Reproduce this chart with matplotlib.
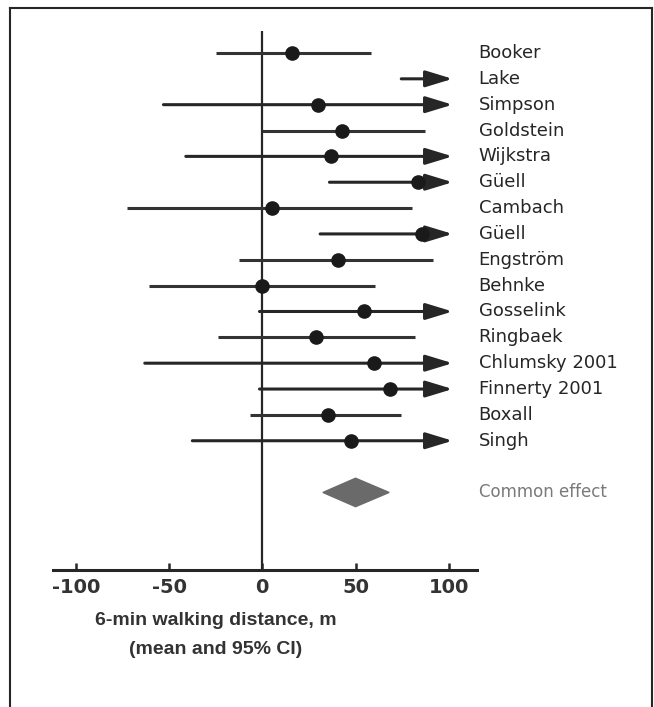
import numpy as np
import matplotlib
matplotlib.use("Agg")
import matplotlib.pyplot as plt
from matplotlib.lines import Line2D
from matplotlib.patches import Polygon

# data (6-min walking distance, m)
studies = ["Booker", "Lake", "Simpson", "Goldstein", "Wijkstra", "Güell",
           "Cambach", "Güell", "Engström", "Behnke", "Gosselink", "Ringbaek",
           "Chlumsky 2001", "Finnerty 2001", "Boxall", "Singh"]
means = [16, np.nan, 30, 42.5, 37, 83.5, 5, 85.5, 40.5, 0, 54.5, 29, 60, 68.5, 35, 47.5]
lower = [-25, 74.5, -53, 0, -41, 36, -72.5, 31, -12.5, -60.5, -1.5, -24, -63, -1.5, -6.5, -37.5]
# np.inf -> upper limit runs off the scale (drawn as an arrow)
upper = [58.5, np.inf, np.inf, 87, np.inf, np.inf, 80, np.inf, 91.5, 60.5, np.inf, 82, np.inf, np.inf, 74.5, np.inf]
common_label = "Common effect"
common_mean = 50
common_lo = 32.5
common_hi = 68
xticks = [-100, -50, 0, 50, 100]
xticklabels = ["-100", "-50", "0", "50", "100"]

W, H = 654, 707
fig = plt.figure(figsize=(W / 100, H / 100), dpi=100)
ax = fig.add_axes([53 / W, 1 - 570 / H, 424 / W, 539 / H])

dark = "#262626"
ax.set_xlim(-112.2, 115.1)
ax.set_ylim(20, -0.85)

# zero line
ax.axvline(0, color=dark, lw=1.6, zorder=1)

for i, (lo, m, hi) in enumerate(zip(lower, means, upper)):
    if np.isfinite(hi):
        ax.plot([lo, hi], [i, i], color="#333333", lw=2.2, solid_capstyle="butt", zorder=2)
    else:
        ax.annotate("", xy=(102, i), xytext=(lo, i),
                    arrowprops=dict(arrowstyle="-|>,head_length=0.82,head_width=0.25",
                                    mutation_scale=20, color="#262626", lw=2.2,
                                    shrinkA=0, shrinkB=0),
                    zorder=2)
    if np.isfinite(m):
        ax.plot(m, i, "o", ms=9.5, color="#1a1a1a", zorder=3)
    ax.text(116, i, studies[i], ha="left", va="center", fontsize=13,
            color="#262626", clip_on=False)

# pooled estimate
yd = len(studies) + 1
ax.add_patch(Polygon([[common_lo, yd], [common_mean, yd - 0.55],
                      [common_hi, yd], [common_mean, yd + 0.55]],
                     closed=True, color="#6a6a6a", zorder=2))
ax.text(116, yd, common_label, ha="left", va="center", fontsize=12,
        color="#7a7a7a", clip_on=False)

for s in ["top", "right", "left"]:
    ax.spines[s].set_visible(False)
ax.spines["bottom"].set_linewidth(2.2)
ax.spines["bottom"].set_color(dark)
ax.set_yticks([])
ax.set_xticks(xticks)
ax.set_xticklabels(xticklabels, fontsize=14, fontweight="bold", color="#333333")
ax.tick_params(axis="x", direction="in", length=5, width=1.8, color=dark, pad=6)

ax.set_xlabel("6-min walking distance, m\n(mean and 95% CI)", fontsize=14,
              fontweight="bold", family="Liberation Sans", color="#333333",
              linespacing=1.9)
ax.xaxis.set_label_coords((216 - 53) / 424, -0.078)

# frame around the figure
fig.add_artist(Line2D([10 / W, 10 / W], [0, 1 - 8 / H], color=dark, lw=1.5))
fig.add_artist(Line2D([10 / W, 652 / W], [1 - 8 / H, 1 - 8 / H], color=dark, lw=1.5))
fig.add_artist(Line2D([652 / W, 652 / W], [0, 1 - 8 / H], color=dark, lw=1.5))

fig.savefig("out.png", dpi=100)
